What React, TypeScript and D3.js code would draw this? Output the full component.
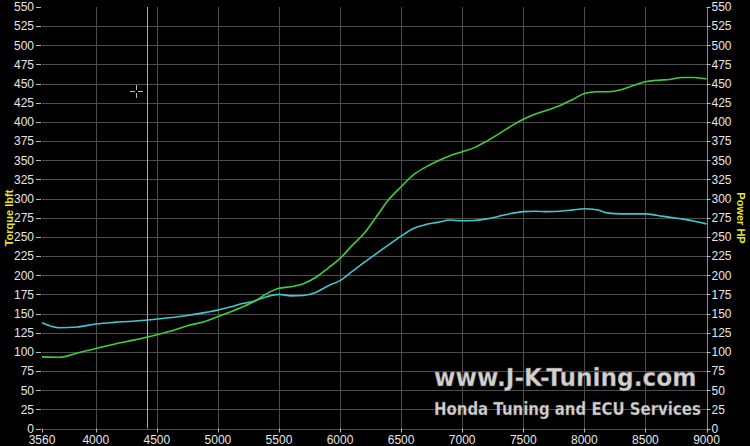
import React from "react";
import * as d3 from "d3";

const rpm = [3560, 3700, 3850, 4000, 4150, 4300, 4450, 4600, 4750, 4900, 5000, 5100, 5200, 5300, 5400, 5500, 5600, 5700, 5800, 5900, 6000, 6100, 6200, 6300, 6400, 6500, 6600, 6700, 6800, 6900, 7000, 7100, 7200, 7300, 7400, 7500, 7600, 7700, 7800, 7900, 8000, 8100, 8200, 8300, 8400, 8500, 8600, 8700, 8800, 8900, 9000];

const powerHP = [93.5, 93, 98.5, 104.5, 110, 115, 120.5, 126.5, 134, 140, 146, 152, 158.5, 166, 176, 183, 185, 189, 197, 209, 222, 239, 255, 277, 299, 315.5, 331, 341, 349, 356, 361, 366.5, 375, 384.5, 394.5, 403.5, 410.5, 415.5, 421.5, 429, 437, 439.5, 439.5, 442, 447.5, 452.5, 454.5, 455.5, 458, 458, 456];

const torque = [138, 131.5, 132.5, 136.3, 138.5, 140, 142, 144.5, 147.5, 151.5, 154.5, 158.5, 163, 166.5, 172, 175, 173, 173.5, 177.5, 186, 193, 205, 217, 228.5, 240, 251, 261, 266, 269, 272, 271, 271.5, 273.5, 277, 280.5, 283, 283.5, 283, 283.5, 285, 286.8, 285.5, 281, 280, 280, 280, 278, 275.5, 273.5, 270.5, 267];

const xTicks = [3560, 4000, 4500, 5000, 5500, 6000, 6500, 7000, 7500, 8000, 8500, 9000];
const yTicks = d3.range(0, 551, 25);
const cursorRpm = 4422;
const leftTitle = "Torque lbft";
const rightTitle = "Power HP";
const watermark1 = "www.J-K-Tuning.com";
const watermark2 = "Honda Tuning and ECU Services";

export default function App() {
  const W = 750, H = 446;
  const x = d3.scaleLinear().domain([3560, 9000]).range([42, 706.5]);
  const y = d3.scaleLinear().domain([0, 550]).range([428.5, 7]);
  const line = (vals: number[]) =>
    d3.line<number>().x((_, i) => x(rpm[i])).y((d) => y(d)).curve(d3.curveMonotoneX)(vals) || "";
  const font = "'Liberation Sans', Arial, sans-serif";
  const grid = "#4d4d4d";
  const cross = { cx: 136, cy: 91 };
  return (
    <div style={{ position: "fixed", left: 0, top: 0, width: W, height: H, background: "#000" }}>
      <svg width={W} height={H} style={{ display: "block", background: "#000" }}>
        {/* horizontal grid */}
        {yTicks.filter((t) => t < 550).map((t) => (
          <line key={"h" + t} x1={x(3560)} x2={x(9000)} y1={Math.round(y(t)) + 0.5} y2={Math.round(y(t)) + 0.5} stroke={grid} strokeWidth={1} />
        ))}
        {/* vertical grid */}
        {xTicks.filter((t) => t !== 3560 && t !== 9000).map((t) => (
          <line key={"v" + t} x1={Math.round(x(t)) + 0.5} x2={Math.round(x(t)) + 0.5} y1={y(550)} y2={y(0)} stroke={grid} strokeWidth={1} />
        ))}
        {/* right axis */}
        <line x1={Math.round(x(9000)) + 0.5} x2={Math.round(x(9000)) + 0.5} y1={y(550)} y2={y(0) + 4} stroke="#8a8a8a" strokeWidth={1} />
        {/* left/right ticks & labels */}
        {yTicks.map((t) => (
          <g key={"l" + t}>
            <line x1={36} x2={41} y1={Math.round(y(t)) + 0.5} y2={Math.round(y(t)) + 0.5} stroke="#bbb" strokeWidth={1} />
            <text x={34} y={y(t)} dy="0.36em" textAnchor="end" fill="#e6e6e6" fontSize={12} fontFamily={font}>{t}</text>
            <line x1={x(9000)} x2={x(9000) + 4} y1={Math.round(y(t)) + 0.5} y2={Math.round(y(t)) + 0.5} stroke="#bbb" strokeWidth={1} />
            <text x={x(9000) + 5} y={y(t)} dy="0.36em" textAnchor="start" fill="#e6e6e6" fontSize={12} fontFamily={font}>{t}</text>
          </g>
        ))}
        {/* bottom ticks */}
        {xTicks.map((t) => (
          <g key={"b" + t}>
            <line x1={Math.round(x(t)) + 0.5} x2={Math.round(x(t)) + 0.5} y1={y(0)} y2={y(0) + 4} stroke="#bbb" strokeWidth={1} />
            <text x={x(t)} y={444} textAnchor="middle" fill="#e6e6e6" fontSize={12} fontFamily={font}>{t}</text>
          </g>
        ))}
        {/* axis titles */}
        <text transform={`translate(13,218) rotate(-90)`} textAnchor="middle" fill="#e6e62e" fontSize={11} fontWeight="bold" fontFamily={font}>{leftTitle}</text>
        <text transform={`translate(737,218) rotate(90)`} textAnchor="middle" fill="#e6e62e" fontSize={11} fontWeight="bold" fontFamily={font}>{rightTitle}</text>
        {/* cursor */}
        <line x1={Math.round(x(cursorRpm)) + 0.5} x2={Math.round(x(cursorRpm)) + 0.5} y1={y(550)} y2={y(0)} stroke="#b4b47c" strokeWidth={1} />
        {/* crosshair */}
        <g stroke="#bbb" strokeWidth={1}>
          <line x1={cross.cx - 6} x2={cross.cx - 1} y1={cross.cy + 0.5} y2={cross.cy + 0.5} />
          <line x1={cross.cx + 2} x2={cross.cx + 7} y1={cross.cy + 0.5} y2={cross.cy + 0.5} />
          <line x1={cross.cx + 0.5} x2={cross.cx + 0.5} y1={cross.cy - 6} y2={cross.cy - 1} />
          <line x1={cross.cx + 0.5} x2={cross.cx + 0.5} y1={cross.cy + 2} y2={cross.cy + 7} />
        </g>
        {/* curves */}
        <path d={line(torque)} fill="none" stroke="#3ec9cf" strokeWidth={1.6} />
        <path d={line(powerHP)} fill="none" stroke="#3fcf3a" strokeWidth={1.6} />
        {/* watermark */}
        <g transform="translate(434,386) scale(0.93,1)">
          <text x={0} y={0} fill="#d4d0d0" stroke="#555" strokeWidth={0.4} fontSize={25} fontWeight="bold" fontFamily="'DejaVu Sans', sans-serif">{watermark1}</text>
        </g>
        <g transform="translate(434,415) scale(0.83,1)">
          <text x={0} y={0} fill="#d4d0d0" stroke="#555" strokeWidth={0.3} fontSize={18} fontWeight="bold" fontFamily="'DejaVu Sans', sans-serif">{watermark2}</text>
        </g>
      </svg>
    </div>
  );
}
